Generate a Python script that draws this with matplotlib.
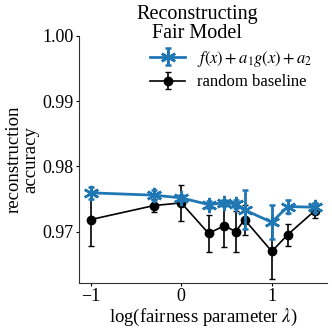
import matplotlib
matplotlib.use("Agg")
import matplotlib.pyplot as plt
import numpy as np

plt.rcParams['font.family'] = ['Liberation Serif', 'DejaVu Serif']
plt.rcParams['mathtext.fontset'] = 'stix'

lambdas = [0.1, 0.5, 1, 2, 3, 4, 5, 10, 15, 30]
fair_acc = [0.97595, 0.97559, 0.97518, 0.97415, 0.97441, 0.97426, 0.97333, 0.97144, 0.97385, 0.97374]
fair_err = [0.0009, 0.0008, 0.0005, 0.0005, 0.0005, 0.0006, 0.0030, 0.0026, 0.0010, 0.0007]
rand_acc = [0.97185, 0.97400, 0.97441, 0.96974, 0.97090, 0.97000, 0.97185, 0.96697, 0.96954, 0.97323]
rand_err = [0.0040, 0.0010, 0.0028, 0.0028, 0.0032, 0.0031, 0.0023, 0.0042, 0.0017, 0.0012]

x = np.log10(lambdas)

fig = plt.figure(figsize=(3.32, 3.29), dpi=100)
ax = fig.add_axes([79/332, 1 - 282.5/329, (327-79)/332, (282.5-36)/329])

ax.errorbar(x, fair_acc, yerr=fair_err, color='#1f77b4', marker=(6, 2, 0),
            markersize=11, markeredgewidth=1.8, linewidth=2, capsize=2,
            label=r'$f(x)+a_1g(x)+a_2$', zorder=3)
ax.errorbar(x, rand_acc, yerr=rand_err, color='black', marker='o',
            markersize=6, linewidth=1.2, capsize=2, label='random baseline', zorder=2)

ax.set_xlim(-1.13, 1.61)
ax.set_ylim(0.9622, 1.0)
ax.set_xticks([-1, 0, 1])
ax.set_xticklabels(['−1', '0', '1'])
ax.set_yticks([0.97, 0.98, 0.99, 1.00])
ax.set_yticklabels(['0.97', '0.98', '0.99', '1.00'])
ax.tick_params(labelsize=13, length=2, width=0.8, pad=2)
for s in ['top', 'right']:
    ax.spines[s].set_visible(False)
for s in ['left', 'bottom']:
    ax.spines[s].set_linewidth(0.8)
    ax.spines[s].set_color('#333333')

ax.set_xlabel(r'log(fairness parameter $\lambda$)', fontsize=13.5, labelpad=1)
ax.set_ylabel('reconstruction\naccuracy', fontsize=13.5, linespacing=1.0, labelpad=2)
fig.text(197/332, 1 - 38/329, 'Reconstructing\nFair Model', fontsize=14.5,
         linespacing=1.0, ha='center', va='baseline', multialignment='center')

leg = fig.legend(loc='center left', bbox_to_anchor=(150/332, 1 - 69.5/329), frameon=False,
                 fontsize=12, handlelength=2.1, handletextpad=0.7, borderaxespad=0,
                 borderpad=0, labelspacing=0.35)

fig.savefig('out.png', dpi=100)
